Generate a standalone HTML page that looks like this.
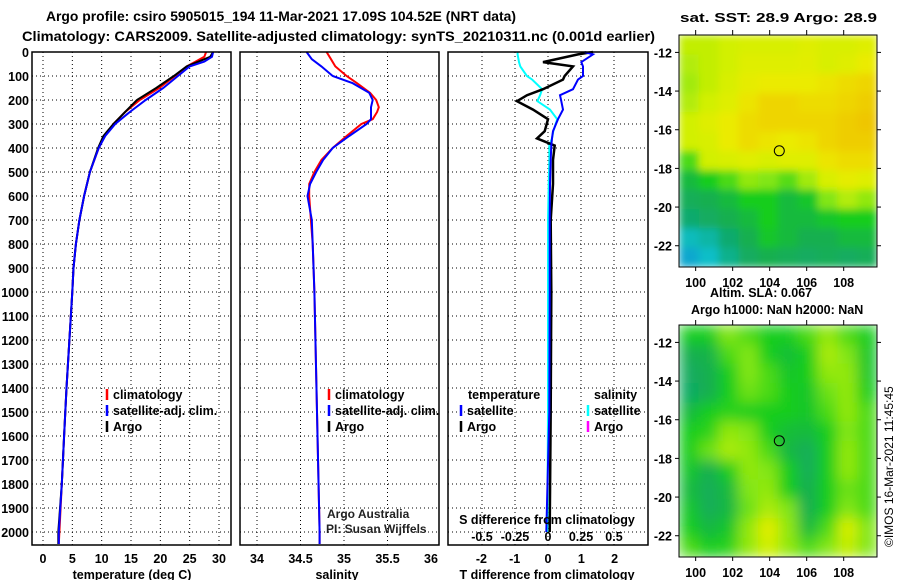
<!DOCTYPE html>
<html><head><meta charset="utf-8"><style>
body{margin:0;background:#fff;}
svg{display:block;font-family:"Liberation Sans",sans-serif;}
.b{font-weight:bold;font-size:12.5px;}
</style></head><body>
<svg id="c" width="900" height="580" viewBox="0 0 900 580" xmlns="http://www.w3.org/2000/svg">
<defs>
<filter id="blurSST" x="-5%" y="-5%" width="110%" height="110%"><feGaussianBlur stdDeviation="4" edgeMode="duplicate"/></filter>
<filter id="blurSLA" x="-5%" y="-5%" width="110%" height="110%"><feGaussianBlur stdDeviation="7" edgeMode="duplicate"/></filter>
<clipPath id="clipSST"><rect x="679" y="35" width="198" height="232"/></clipPath>
<clipPath id="clipSLA"><rect x="679" y="325" width="198" height="232"/></clipPath>
</defs>
<text x="46" y="21" textLength="470" lengthAdjust="spacingAndGlyphs" style="font-size:14px;font-weight:bold">Argo profile: csiro 5905015_194 11-Mar-2021 17.09S 104.52E (NRT data)</text>
<text x="22" y="41" textLength="633" lengthAdjust="spacingAndGlyphs" style="font-size:14px;font-weight:bold">Climatology: CARS2009. Satellite-adjusted climatology: synTS_20210311.nc (0.001d earlier)</text>
<text x="680" y="22" textLength="197" lengthAdjust="spacingAndGlyphs" style="font-size:13px;font-weight:bold">sat. SST: 28.9 Argo: 28.9</text>
<text x="710" y="297" class="b">Altim. SLA: 0.067</text>
<text x="691" y="314" class="b">Argo h1000: NaN h2000: NaN</text>
<text transform="translate(893,547) rotate(-90)" style="font-size:12px">©IMOS 16-Mar-2021 11:45:45</text>
<g id="g"></g>
</svg>
<script>
// ---- data ----
const depthTicks=[0,100,200,300,400,500,600,700,800,900,1000,1100,1200,1300,1400,1500,1600,1700,1800,1900,2000];
const tempTicks=[0,5,10,15,20,25,30];
const salTicks=[34,34.5,35,35.5,36];
const salTickLabels=["34","34.5","35","35.5","36"];
const tdTicks=[-2,-1,0,1,2];
const sdTicks=[-0.5,-0.25,0,0.25,0.5];
const sdTickLabels=["-0.5","-0.25","0","0.25","0.5"];

const tDepth=[0,20,40,60,100,150,200,250,300,350,400,500,600,700,800,900,1000,1200,1400,1600,1800,2000,2050];
const tClim=[27.8,27.5,26,24.5,22.5,19.8,16.5,14,12,10.5,9.5,8,7,6.2,5.6,5.2,5,4.5,4,3.6,3.2,2.8,2.7];
const tSat=[29,28.8,27.5,25,23,20.5,17.5,14.8,12.3,10.6,9.5,8,7,6.2,5.6,5.2,5,4.5,4,3.6,3.2,2.7,2.7];
const tArgo=[29,28.5,26.5,24.5,22.3,19.3,16,14,12,10.3,9.4,8,7,6.2,5.6,5.2,5,4.5,4,3.6,3.2,2.6,2.6];

const sDepth=[0,30,60,100,130,170,200,230,250,280,300,350,400,450,500,550,600,700,800,1000,1500,2000,2050];
const sClim=[34.8,34.85,34.9,35.03,35.15,35.3,35.37,35.4,35.38,35.33,35.2,35.03,34.87,34.74,34.66,34.6,34.6,34.62,34.64,34.66,34.69,34.72,34.72];
const sSat=[34.57,34.63,34.74,34.87,35.1,35.29,35.33,35.31,35.31,35.31,35.26,35.06,34.87,34.76,34.68,34.61,34.58,34.63,34.64,34.66,34.69,34.72,34.72];

const dDepth=[0,10,42,60,100,115,155,180,205,240,280,330,360,390,450,550,700,1000,1500,2000];
const dtSat=[1.1,1.35,1.0,1.05,1.05,0.9,0.75,0.36,0.4,0.45,0.3,0.15,0.12,0.1,0.08,0.06,0.05,0.05,0.04,-0.05];
const dtArgo=[1.35,0.9,-0.15,0.75,0.5,0.45,-0.15,-0.63,-0.93,-0.45,0,-0.1,-0.33,0.2,0.15,0.15,0.08,0.1,0.08,0.05];
const dsSat=[-0.23,-0.23,-0.22,-0.21,-0.16,-0.12,-0.045,-0.06,-0.08,0.015,0.07,0.04,0.03,0.01,0.01,0.005,0,0,0,-0.005];

const lonTicks=[100,102,104,106,108];
const latTicks=[-12,-14,-16,-18,-20,-22];
const argoLon=104.52, argoLat=-17.09;
const sstGrid=[
[0.68,0.68,0.7,0.72,0.72,0.72,0.74,0.72,0.72,0.74],
[0.66,0.68,0.7,0.74,0.74,0.74,0.75,0.72,0.74,0.78],
[0.64,0.68,0.72,0.76,0.78,0.78,0.78,0.8,0.82,0.84],
[0.66,0.7,0.74,0.8,0.84,0.84,0.82,0.82,0.84,0.86],
[0.7,0.74,0.78,0.82,0.84,0.84,0.84,0.84,0.86,0.88],
[0.7,0.72,0.78,0.82,0.8,0.78,0.8,0.84,0.86,0.86],
[0.55,0.7,0.72,0.74,0.72,0.74,0.74,0.8,0.82,0.82],
[0.45,0.5,0.55,0.62,0.6,0.56,0.64,0.72,0.76,0.74],
[0.4,0.42,0.45,0.5,0.5,0.45,0.48,0.6,0.66,0.62],
[0.35,0.38,0.42,0.45,0.5,0.45,0.45,0.48,0.5,0.5],
[0.22,0.26,0.35,0.42,0.48,0.45,0.42,0.42,0.45,0.45],
[0.15,0.2,0.3,0.38,0.42,0.4,0.38,0.4,0.38,0.4]];
const slaGrid=[
[0.5,0.5,0.6,0.55,0.5,0.5,0.55,0.62,0.55,0.5],
[0.42,0.43,0.55,0.6,0.5,0.46,0.5,0.65,0.6,0.48],
[0.38,0.42,0.5,0.6,0.55,0.48,0.5,0.62,0.62,0.48],
[0.37,0.42,0.5,0.58,0.55,0.5,0.48,0.58,0.62,0.5],
[0.45,0.5,0.52,0.5,0.5,0.5,0.48,0.55,0.62,0.55],
[0.5,0.52,0.62,0.6,0.5,0.46,0.45,0.5,0.6,0.55],
[0.5,0.58,0.65,0.62,0.55,0.44,0.4,0.5,0.62,0.55],
[0.48,0.42,0.5,0.62,0.6,0.5,0.4,0.5,0.62,0.55],
[0.45,0.4,0.45,0.6,0.62,0.5,0.42,0.5,0.58,0.55],
[0.48,0.4,0.44,0.58,0.65,0.6,0.42,0.5,0.6,0.55],
[0.5,0.44,0.48,0.62,0.75,0.62,0.45,0.55,0.72,0.6],
[0.55,0.5,0.52,0.62,0.7,0.62,0.55,0.6,0.68,0.6]];

// ---- helpers ----
const NS="http://www.w3.org/2000/svg";
const G=document.getElementById('g');
function mk(tag,attrs,parent){const e=document.createElementNS(NS,tag);for(const k in attrs)e.setAttribute(k,attrs[k]);(parent||G).appendChild(e);return e;}
function txt(x,y,s,anchor,cls,name){const t=mk('text',{x:x,y:y,'text-anchor':anchor||'start','class':cls||'b'});t.textContent=s;


return t;}
const pTop=52, pxPerM=0.24, pBot=545;
const yD=d=>pTop+d*pxPerM;
function lin(d0,d1,r0,r1){return v=>r0+(v-d0)*(r1-r0)/(d1-d0);}
const xT=lin(0,30,43,219), xS=lin(34,36,257,431), xDT=lin(0,1,548,581.3), xDS=lin(0,0.5,548,614);

function panel(x0,x1,name,vgrid,xs){
  const g=mk('g',{});
  
  
  depthTicks.forEach(d=>{if(d>0)mk('line',{x1:x0,x2:x1,y1:yD(d),y2:yD(d),stroke:'#000','stroke-dasharray':'1,3','stroke-width':1},g);});
  vgrid.forEach(v=>mk('line',{x1:xs(v),x2:xs(v),y1:pTop,y2:pBot,stroke:'#000','stroke-dasharray':'1,3','stroke-width':1},g));
  return g;
}
function frame(x0,x1,name){const r=mk('rect',{x:x0,y:pTop,width:x1-x0,height:pBot-pTop,fill:'none',stroke:'#000','stroke-width':1.5});

}
function line(xs,vals,depths,col,name,w){
  const pts=vals.map((v,i)=>xs(v).toFixed(1)+','+yD(depths[i]).toFixed(1)).join(' ');
  const p=mk('polyline',{points:pts,fill:'none',stroke:col,'stroke-width':w||2});
  
  
}
panel(32,231,'temperature-panel',tempTicks,xT);
panel(240,439,'salinity-panel',[34,34.5,35,35.5],xS);
panel(448,648,'difference-panel',sdTicks,xDS);
depthTicks.forEach(d=>txt(29,yD(d)+5,String(d),'end','b','depth-tick-label'));
tempTicks.forEach(v=>txt(xT(v),563,String(v),'middle','b','temp-tick-label'));
salTicks.forEach((v,i)=>txt(xS(v),563,salTickLabels[i],'middle','b','salinity-tick-label'));
tdTicks.forEach(v=>txt(xDT(v),563,String(v),'middle','b','tdiff-tick-label'));
txt(132,579,'temperature (deg C)','middle','b','temp-axis-title');
txt(337,579,'salinity','middle','b','salinity-axis-title');
txt(547,579,'T difference from climatology','middle','b','tdiff-axis-title');
line(xT,tClim,tDepth,'#f00','temp-climatology-line');
line(xT,tArgo,tDepth,'#000','temp-argo-line');
line(xT,tSat,tDepth,'#00f','temp-satellite-line');
line(xS,sClim,sDepth,'#f00','salinity-climatology-line');
line(xS,sSat,sDepth,'#00f','salinity-satellite-line');
line(xDS,dsSat,dDepth,'#0ff','sdiff-satellite-line');
line(xDT,dtArgo,dDepth,'#000','tdiff-argo-line',2.5);
line(xDT,dtSat,dDepth,'#00f','tdiff-satellite-line');
txt(547,524,'S difference from climatology','middle','b','sdiff-axis-title');
sdTicks.forEach((v,i)=>txt(xDS(v),541,sdTickLabels[i],'middle','b','sdiff-tick-label'));
frame(32,231,'temperature-frame');frame(240,439,'salinity-frame');frame(448,648,'difference-frame');
function leg(x,y,col,label,name){const l=mk('line',{x1:x,x2:x,y1:y-6,y2:y+5,stroke:col,'stroke-width':2.5});


if(label)txt(x+6,y+4,label,'start','b',name+'-label');}
leg(107,395,'#f00','climatology','legend-temp-climatology');
leg(107,411,'#00f','satellite-adj. clim.','legend-temp-satellite');
leg(107,427,'#000','Argo','legend-temp-argo');
leg(329,395,'#f00','climatology','legend-sal-climatology');
leg(329,411,'#00f','satellite-adj. clim.','legend-sal-satellite');
leg(329,427,'#000','Argo','legend-sal-argo');
txt(468,399,'temperature','start','b','legend-temperature-heading');
txt(594,399,'salinity','start','b','legend-salinity-heading');
leg(461,411,'#00f','satellite','legend-tdiff-satellite');
leg(461,427,'#000','Argo','legend-tdiff-argo');
leg(588,411,'#0ff','satellite','legend-sdiff-satellite');
leg(588,427,'#f0f','Argo','legend-sdiff-argo');
const t1=txt(327,518,'Argo Australia','start','','credit-argo-australia');t1.setAttribute('style','font-size:12px;fill:#222');
const t2=txt(326,533,'PI: Susan Wijffels','start','','credit-pi');t2.setAttribute('style','font-size:12px;fill:#222');

const stops=[[0,[16,96,224]],[0.2,[16,190,200]],[0.35,[16,170,110]],[0.42,[20,175,80]],[0.5,[20,205,30]],[0.6,[130,230,20]],[0.7,[210,240,0]],[0.78,[235,235,0]],[0.9,[240,190,0]],[1,[240,150,0]]];
function cmap(v){for(let i=1;i<stops.length;i++){if(v<=stops[i][0]){const a=stops[i-1],b=stops[i],t=(v-a[0])/(b[0]-a[0]);return 'rgb('+a[1].map((c,k)=>Math.round(c+(b[1][k]-c)*t)).join(',')+')';}}return 'rgb(240,150,0)';}
function drawMap(grid,y0,name,filt,clip){
  const x0=679,x1=877,y1=y0+232;
  const xL=lin(99.1,109.8,x0,x1), yL=lin(-11.1,-23.1,y0,y1);
  const g=mk('g',{});
  
  
  const cg=mk('g',{'clip-path':'url(#'+clip+')'},g);
  const fg=mk('g',{filter:'url(#'+filt+')'},cg);
  const nr=grid.length,nc=grid[0].length;
  const lon0=99.1,dlon=(109.8-99.1)/nc,lat0=-11.1,dlat=(-23.1+11.1)/nr;
  grid.forEach((row,r)=>row.forEach((v,c)=>{
    const cx=xL(lon0+c*dlon),cy=yL(lat0+r*dlat);
    const cell=mk('rect',{x:cx,y:cy,width:xL(lon0+(c+1)*dlon)-cx+0.5,height:yL(lat0+(r+1)*dlat)-cy+0.5,fill:cmap(v)},fg);
    
    
  }));
  mk('rect',{x:x0,y:y0,width:x1-x0,height:y1-y0,fill:'none',stroke:'#000','stroke-width':1},g);
  lonTicks.forEach(l=>{mk('line',{x1:xL(l),x2:xL(l),y1:y0-5,y2:y0,stroke:'#000'},g);mk('line',{x1:xL(l),x2:xL(l),y1:y1,y2:y1+4,stroke:'#000'},g);
    txt(xL(l),y1+20,String(l),'middle','b','map-lon-tick-label');});
  latTicks.forEach(l=>{mk('line',{x1:x0-4,x2:x0,y1:yL(l),y2:yL(l),stroke:'#000'},g);mk('line',{x1:x1,x2:x1+4,y1:yL(l),y2:yL(l),stroke:'#000'},g);
    txt(x0-7,yL(l)+5,String(l),'end','b','map-lat-tick-label');});
  const c=mk('circle',{cx:xL(argoLon),cy:yL(argoLat),r:5,fill:'none',stroke:'#000','stroke-width':1},g);
  
  
}
drawMap(sstGrid,35,'sst-map','blurSST','clipSST');
drawMap(slaGrid,325,'sla-map','blurSLA','clipSLA');
</script>
</body></html>
